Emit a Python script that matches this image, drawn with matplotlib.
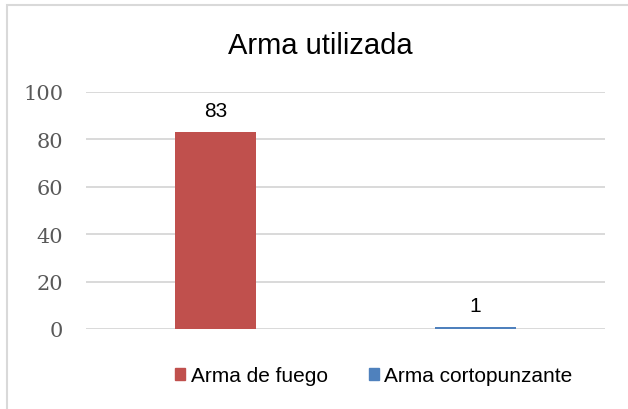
import matplotlib
matplotlib.use("Agg")
import matplotlib.pyplot as plt
from matplotlib.patches import Rectangle, Patch

series = ["Arma de fuego", "Arma cortopunzante"]
values = [83, 1]
colors = ["#C0504D", "#4F81BD"]
yticks = [0, 20, 40, 60, 80, 100]
title = "Arma utilizada"

W, H = 628, 410
fig = plt.figure(figsize=(W / 100, H / 100), dpi=100)
fig.patches.append(Rectangle((7 / W, -0.1), 1.2, 1 - 6 / H + 0.1, transform=fig.transFigure,
                             fill=False, edgecolor="#D9D9D9", linewidth=1.5))

ax = fig.add_axes([86 / W, (H - 330) / H, (605 - 86) / W, (330 - 93) / H])
x = list(range(len(series)))
bars = ax.bar(x, values, width=0.312, color=colors, zorder=3)
for xi, v in zip(x, values):
    ax.annotate(str(v), (xi, v), xytext=(0, 11.5), textcoords="offset points",
                ha="center", va="baseline", fontsize=15,
                family="Liberation Sans", color="black")

ax.set_xlim(-0.5, 1.5)
ax.set_ylim(0, 100)
ax.set_yticks(yticks)
ax.set_yticklabels([str(t) for t in yticks], family="DejaVu Serif", fontsize=15, color="#595959")
ax.set_xticks([])
ax.tick_params(axis="y", length=0, pad=16.5)
ax.grid(axis="y", color="#D9D9D9", linewidth=1.4, zorder=0)
for s in ax.spines.values():
    s.set_visible(False)

fig.text(320 / W, 1 - 54 / H, title, ha="center", va="baseline", fontsize=21,
         family="Liberation Sans", color="black")

handles = [Patch(facecolor=c, edgecolor=c) for c in colors]
fig.legend(handles, series, loc="center", bbox_to_anchor=(374 / W, 1 - 377 / H), ncol=2,
           frameon=False, prop={"family": "Liberation Sans", "size": 15},
           handlelength=0.48, handleheight=0.48, handletextpad=0.25, columnspacing=2.0,
           borderpad=0, borderaxespad=0)

fig.savefig("out.png", dpi=100)
